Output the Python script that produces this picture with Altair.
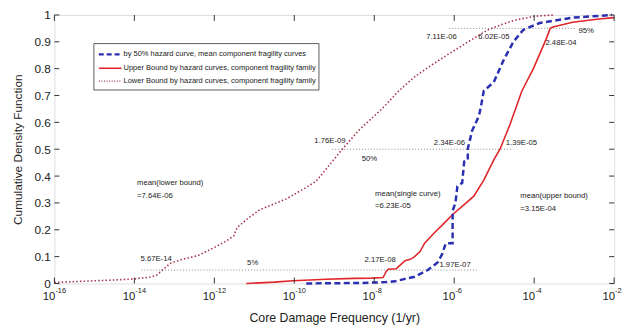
import altair as alt
import pandas as pd

W, H = 567, 272
NARROW = "Liberation Sans, Arial, sans-serif"
SANS = "Liberation Sans, Arial, sans-serif"
INK = "#222222"

# ---- curves: log10(core damage frequency) and cumulative probability ----
lower_log10 = [-16, -15.5, -15, -14.5, -14, -13.6, -13.45, -13.3, -13.1, -12.8, -12.41, -12.0,
               -11.68, -11.51, -11.43, -11.19, -10.86, -10.61, -10.2, -9.79, -9.46, -9.29,
               -9.13, -8.8, -8.39, -8.1, -7.81, -7.4, -6.99, -6.5, -6.08, -5.6, -5.15, -4.8,
               -4.5, -4.0, -3.5]
lower_cdf = [0.004, 0.007, 0.01, 0.013, 0.017, 0.024, 0.03, 0.05, 0.075, 0.09, 0.104, 0.134,
             0.16, 0.178, 0.208, 0.239, 0.275, 0.29, 0.315, 0.35, 0.38, 0.41,
             0.44, 0.5, 0.57, 0.61, 0.65, 0.715, 0.77, 0.82, 0.86, 0.905, 0.945, 0.965,
             0.98, 0.995, 1.0]

median_log10 = [-9.7, -9.0, -8.3, -7.73, -7.48, -7.23, -6.99, -6.74, -6.66, -6.41, -6.3, -6.21,
                -6.04, -6.04, -5.97, -5.92, -5.8, -5.75, -5.66, -5.66, -5.55, -5.47, -5.38,
                -5.33, -5.26, -5.01, -4.77, -4.52, -4.27, -3.86, -3.04, -2.05]
median_cdf = [0.0, 0.001, 0.002, 0.005, 0.008, 0.017, 0.025, 0.044, 0.05, 0.079, 0.11, 0.15,
              0.15, 0.27, 0.30, 0.362, 0.375, 0.454, 0.46, 0.502, 0.57, 0.595, 0.625,
              0.66, 0.717, 0.75, 0.83, 0.9, 0.945, 0.97, 0.99, 1.0]

upper_log10 = [-11.2, -10.5, -10.03, -9.21, -8.5, -8.06, -7.78, -7.7, -7.65, -7.45, -7.4, -7.23,
               -7.1, -6.99, -6.85, -6.74, -6.49, -6.25, -6.04, -5.75, -5.51, -5.26, -5.01,
               -4.85, -4.6, -4.31, -4.02, -3.7, -3.6, -3.53, -3.04, -2.38, -2.0]
upper_cdf = [0.0, 0.005, 0.01, 0.016, 0.019, 0.02, 0.022, 0.045, 0.053, 0.055, 0.062, 0.085,
             0.09, 0.1, 0.12, 0.15, 0.19, 0.225, 0.257, 0.294, 0.325, 0.385, 0.46,
             0.502, 0.594, 0.716, 0.80, 0.91, 0.95, 0.955, 0.973, 0.985, 0.99]

x_tick_exponents = [-16, -14, -12, -10, -8, -6, -4, -2]
y_tick_values = [0, 0.1, 0.2, 0.3, 0.4, 0.5, 0.6, 0.7, 0.8, 0.9, 1.0]

# ---- percentile reference lines ----
ref_level = [0.95, 0.5, 0.05]
ref_start = [7.6e-7, 8.9e-10, 1.5e-14]
ref_end = [1.1e-3, 3.0e-5, 4.2e-6]

# ---- annotations (centered) ----
ann_text = ["7.11E-06", "6.02E-05", "95%", "2.48E-04", "1.76E-09", "50%", "2.34E-06",
            "1.39E-05", "5.67E-14", "5%", "2.17E-08", "1.97E-07"]
ann_x = [4.8e-7, 9.8e-6, 2.0e-3, 4.7e-4, 7.8e-10, 7.6e-9, 7.6e-7, 4.8e-5, 3.5e-14,
         9.1e-12, 1.4e-8, 1.05e-6]
ann_y = [0.919, 0.919, 0.941, 0.897, 0.529, 0.463, 0.522, 0.522, 0.092, 0.077, 0.088, 0.07]

# ---- mean annotations (left aligned) ----
mean_text = ["mean(lower bound)", "=7.64E-06", "mean(single curve)", "=6.23E-05",
             "mean(upper bound)", "=3.15E-04"]
mean_x = [1.17e-14, 1.17e-14, 1.05e-8, 1.05e-8, 4.5e-5, 4.5e-5]
mean_y = [0.374, 0.327, 0.335, 0.29, 0.324, 0.276]

legend_labels = ["by 50% hazard curve, mean component fragility curves",
                 "Upper Bound by hazard curves, component fragility family",
                 "Lower Bound by hazard curves, component fragility family"]

def curve_df(logs, cdf):
    return pd.DataFrame({"freq": [10 ** v for v in logs], "cdf": cdf, "idx": range(len(cdf))})

xscale = alt.Scale(type="log", domain=[1e-16, 1e-2], nice=False)
yscale = alt.Scale(domain=[0, 1], nice=False)

x_axis = alt.Axis(labels=False, ticks=False, domain=False, grid=False,
                  title="Core Damage Frequency (1/yr)", titleFont=SANS,
                  titleFontSize=12.5, titleFontWeight="normal", titleColor=INK,
                  titlePadding=29)
y_axis = alt.Axis(values=y_tick_values, format="~g", ticks=False, domain=False,
                  grid=False, labelFont=SANS, labelFontSize=12, labelColor=INK,
                  labelPadding=4, title="Cumulative Density Function",
                  titleFont=SANS, titleFontSize=12, titleFontWeight="normal",
                  titleColor=INK, titlePadding=10)

def X(field="freq"):
    return alt.X(f"{field}:Q", scale=xscale, axis=x_axis)

def Y(field="cdf"):
    return alt.Y(f"{field}:Q", scale=yscale, axis=y_axis)

one = alt.Data(values=[{"a": 1}])

lower_line = alt.Chart(curve_df(lower_log10, lower_cdf)).mark_line(
    color="#a8344c", strokeWidth=1.6, strokeDash=[1.5, 2.2]).encode(
    x=X(), y=Y(), order="idx:Q")
upper_line = alt.Chart(curve_df(upper_log10, upper_cdf)).mark_line(
    color="#e0262a", strokeWidth=1.6).encode(x=X(), y=Y(), order="idx:Q")
median_line = alt.Chart(curve_df(median_log10, median_cdf)).mark_line(
    color="#2a30b0", strokeWidth=2.5, strokeDash=[6, 3.5]).encode(x=X(), y=Y(), order="idx:Q")

ref_df = pd.DataFrame({"y": ref_level, "x1": ref_start, "x2": ref_end})
ref_lines = alt.Chart(ref_df).mark_rule(color="#8a8a8a", strokeWidth=1, strokeDash=[1, 2]).encode(
    x=X("x1"), x2="x2:Q", y=Y("y"))

ann_df = pd.DataFrame({"t": ann_text, "x": ann_x, "y": ann_y})
ann = alt.Chart(ann_df).mark_text(font=NARROW, fontSize=7.8, fill=INK, align="center",
                                  baseline="middle").encode(x=X("x"), y=Y("y"), text="t:N")
mean_df = pd.DataFrame({"t": mean_text, "x": mean_x, "y": mean_y})
mean_ann = alt.Chart(mean_df).mark_text(font=NARROW, fontSize=7.8, fill=INK, align="left",
                                        baseline="middle").encode(x=X("x"), y=Y("y"), text="t:N")

# inward ticks
xt_df = pd.DataFrame({"freq": [10.0 ** e for e in x_tick_exponents],
                      "exp": [str(e) for e in x_tick_exponents]})
yt_df = pd.DataFrame({"cdf": y_tick_values})
tick_style = dict(color="#333", strokeWidth=1)
xt_bottom = alt.Chart(xt_df).mark_rule(**tick_style).encode(
    x=X(), y=alt.value(H), y2=alt.value(H - 6))
xt_top = alt.Chart(xt_df).mark_rule(**tick_style).encode(
    x=X(), y=alt.value(0), y2=alt.value(6))
yt_left = alt.Chart(yt_df).mark_rule(**tick_style).encode(
    y=Y(), x=alt.value(0), x2=alt.value(5))
yt_right = alt.Chart(yt_df).mark_rule(**tick_style).encode(
    y=Y(), x=alt.value(W - 5), x2=alt.value(W))

# x tick labels 10^n
xl_base = alt.Chart(xt_df).mark_text(text="10", font=SANS, fontSize=11.5, fill=INK,
                                     align="right", baseline="middle", dx=1).encode(
    x=X(), y=alt.value(H + 14))
xl_exp = alt.Chart(xt_df).mark_text(font=SANS, fontSize=7.5, fill=INK,
                                    align="left", baseline="middle", dx=1).encode(
    x=X(), y=alt.value(H + 8), text="exp:N")

# legend (drawn manually, MATLAB style)
LX, LY = 40, 29
leg_box = alt.Chart(one).mark_rect(fill="white", stroke="#333", strokeWidth=0.8).encode(
    x=alt.value(LX), x2=alt.value(LX + 228), y=alt.value(LY), y2=alt.value(LY + 47))
rows = [LY + 11, LY + 25, LY + 38]
leg_items = []
styles = [dict(color="#2a30b0", strokeWidth=2.2, strokeDash=[5, 3]),
          dict(color="#e0262a", strokeWidth=1.6),
          dict(color="#a8344c", strokeWidth=1.2, strokeDash=[1, 1.6])]
for r, lab, st in zip(rows, legend_labels, styles):
    leg_items.append(alt.Chart(one).mark_rule(**st).encode(
        x=alt.value(LX + 5), x2=alt.value(LX + 28), y=alt.value(r)))
    leg_items.append(alt.Chart(one).mark_text(text=lab, font=NARROW, fontSize=7.6, fill=INK,
                                              align="left", baseline="middle").encode(
        x=alt.value(LX + 30), y=alt.value(r)))

chart = alt.layer(
    ref_lines, lower_line, upper_line, median_line, ann, mean_ann,
    xt_bottom, xt_top, yt_left, yt_right, xl_base, xl_exp, leg_box, *leg_items
).properties(
    width=W, height=H,
    autosize=alt.AutoSizeParams(type="none"),
    padding={"left": 47, "top": 5, "right": 10, "bottom": 40},
).configure_view(stroke="#333", strokeWidth=1).configure(background="white")

chart.save("out.html", embed_options={"renderer": "svg", "actions": False})
